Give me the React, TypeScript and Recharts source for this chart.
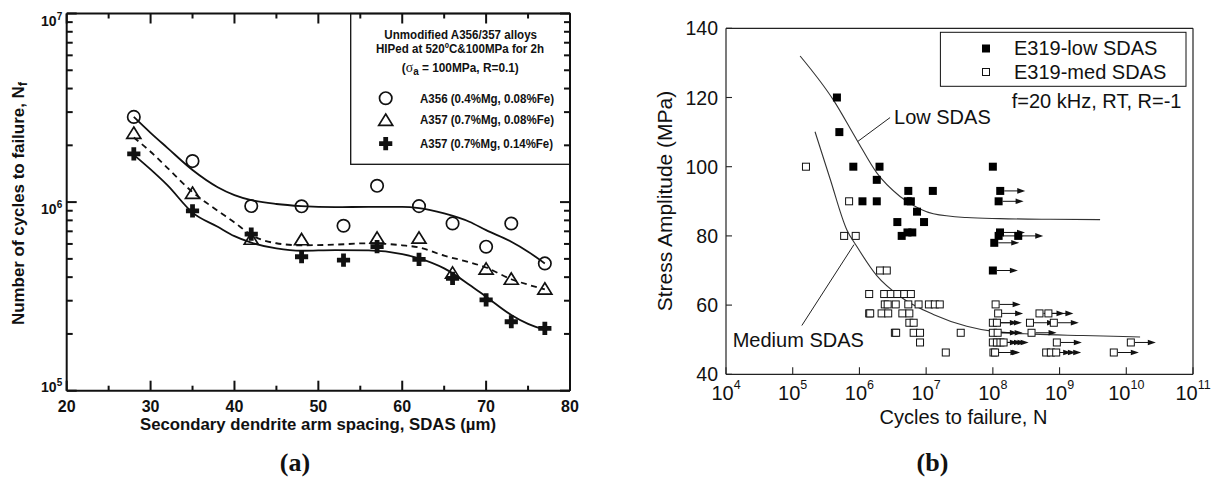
import React from 'react';
import { ComposedChart, Scatter, Line, XAxis, YAxis, ReferenceLine, ReferenceDot } from 'recharts';

const SANS = '"Liberation Sans", Arial, Helvetica, sans-serif';
const SERIF = '"Liberation Serif", "Times New Roman", serif';

// ---------------- Chart (a) data ----------------
const sdasA356 = [28, 35, 42, 48, 53, 57, 62, 66, 70, 73, 77];
const cyclesA356 = [2.83e6, 1.65e6, 0.953e6, 0.95e6, 0.749e6, 1.22e6, 0.952e6, 0.771e6, 0.58e6, 0.77e6, 0.473e6];
const sdasA357LowFe = [28, 35, 42, 48, 57, 62, 66, 70, 73, 77];
const cyclesA357LowFe = [2.31e6, 1.11e6, 0.634e6, 0.63e6, 0.642e6, 0.642e6, 0.419e6, 0.44e6, 0.389e6, 0.345e6];
const sdasA357HighFe = [28, 35, 42, 48, 53, 57, 62, 66, 70, 73, 77];
const cyclesA357HighFe = [1.8e6, 0.899e6, 0.676e6, 0.513e6, 0.493e6, 0.58e6, 0.497e6, 0.394e6, 0.303e6, 0.232e6, 0.214e6];

const fitSdas = [28, 30, 32, 35, 38, 40, 42, 45, 48, 52, 56, 60, 62, 65, 68, 70, 73, 75, 77];
const fitA356 = [2.83e6, 2.33e6, 1.94e6, 1.48e6, 1.2e6, 1.09e6, 1.025e6, 0.977e6, 0.952e6, 0.94e6, 0.944e6, 0.944e6, 0.93e6, 0.871e6, 0.787e6, 0.71e6, 0.616e6, 0.546e6, 0.473e6];
const fitA357LowFe = [2.2e6, 1.85e6, 1.52e6, 1.13e6, 0.9e6, 0.78e6, 0.67e6, 0.605e6, 0.59e6, 0.595e6, 0.605e6, 0.59e6, 0.575e6, 0.52e6, 0.48e6, 0.45e6, 0.39e6, 0.365e6, 0.345e6];
const fitA357HighFe = [1.78e6, 1.49e6, 1.23e6, 0.88e6, 0.74e6, 0.66e6, 0.61e6, 0.568e6, 0.552e6, 0.557e6, 0.555e6, 0.53e6, 0.503e6, 0.445e6, 0.365e6, 0.315e6, 0.252e6, 0.226e6, 0.21e6];

const sdasTicks = [20, 25, 30, 35, 40, 45, 50, 55, 60, 65, 70, 75, 80];
const cycleDecadesA = [1e5, 1e6, 1e7];

// ---------------- Chart (b) data ----------------
const lowN = [4.6e5, 5.0e5, 8.1e5, 2.0e6, 1.82e6, 5.4e6, 1.26e7, 1.11e6, 1.82e6, 5.3e6, 5.9e6, 7.3e6, 3.7e6, 9.3e6, 4.3e6, 5.25e6, 6.2e6, 1.0e8];
const lowS = [120, 110, 100, 100, 96.2, 93, 93, 90, 90, 90, 90, 87, 84, 84, 80, 81, 81, 100];
const lowRunoutN = [1.29e8, 1.22e8, 1.28e8, 1.22e8, 2.4e8, 1.05e8, 1.0e8];
const lowRunoutS = [93, 90, 81, 80, 80, 78, 70];

const medN = [
  1.58e5, 7.0e5, 5.9e5, 8.8e5, 2.04e6, 2.57e6,
  1.4e6, 2.35e6, 2.95e6, 3.7e6, 4.7e6, 5.9e6,
  2.4e6, 2.65e6, 3.5e6, 5.4e6, 7.7e6, 1.1e7, 1.35e7, 1.6e7,
  1.4e6, 1.45e6, 2.15e6, 2.7e6, 4.4e6, 5.6e6,
  5.6e6, 6.5e6,
  3.4e6, 3.55e6, 6.5e6, 8.1e6, 3.3e7,
  8.1e6,
  1.97e7,
];
const medS = [
  100, 90, 80, 80, 70, 70,
  63.2, 63.2, 63.2, 63.2, 63.2, 63.2,
  60.2, 60.2, 60.2, 60.2, 60.2, 60.2, 60.2, 60.2,
  57.6, 57.6, 57.6, 57.6, 57.6, 57.6,
  54.9, 54.9,
  52, 52, 52, 52, 52,
  49.2,
  46.3,
];
const medRunoutN = [1.1e8, 1.2e8, 5.0e8, 6.8e8, 1.0e8, 1.15e8, 3.6e8, 8.2e8, 1.0e8, 1.18e8, 3.8e8, 1.0e8, 1.15e8, 1.3e8, 1.45e8, 9.1e8, 1.17e10, 1.02e8, 1.08e8, 6.3e8, 7.4e8, 8.9e8, 6.5e9];
const medRunoutS = [60.2, 57.6, 57.6, 57.6, 54.9, 54.9, 54.9, 54.9, 52, 52, 52, 49.2, 49.2, 49.2, 49.2, 49.2, 49.2, 46.3, 46.3, 46.3, 46.3, 46.3, 46.3];

const lowFitN = [1.29e5, 4.06e5, 9.1e5, 1.82e6, 4.06e6, 8.1e6, 1.28e7, 4.06e7, 1.28e8, 7.2e8, 4.05e9];
const lowFitS = [132.0, 119.3, 107.8, 98.2, 91.4, 87.8, 86.4, 85.3, 85.0, 84.8, 84.7];
const medFitN = [2.16e5, 3.62e5, 6.46e5, 9.1e5, 1.82e6, 4.06e6, 1.28e7, 4.06e7, 1.02e8, 4.05e8, 2.25e9, 1.61e10];
const medFitS = [110.1, 96.6, 81.8, 77.0, 68.5, 62.5, 57.3, 53.9, 52.4, 51.6, 51.2, 50.8];

const stressTicks = [40, 60, 80, 100, 120, 140];
const cycleDecadesB = [1e4, 1e5, 1e6, 1e7, 1e8, 1e9, 1e10, 1e11];

// ---------------- helpers ----------------
const zip = (xs: number[], ys: number[], kx: string, ky: string) =>
  xs.map((x, i) => ({ [kx]: x, [ky]: ys[i] }));

const logMinorTicks = (decades: number[]) =>
  decades.slice(0, -1).flatMap((d) => [2, 3, 4, 5, 6, 7, 8, 9].map((m) => m * d));

const isDecade = (v: number) => {
  const e = Math.log10(v);
  return Math.abs(e - Math.round(e)) < 1e-6;
};

const INK = '#111';

// ---------------- markers (a) ----------------
const CircleMark = (p: any) => (
  <circle cx={p.cx} cy={p.cy} r={6.2} fill="none" stroke={INK} strokeWidth={1.7} />
);
const TriangleMark = (p: any) => {
  const { cx, cy } = p;
  return (
    <path d={`M${cx},${cy - 6.5} L${cx + 7},${cy + 4.8} L${cx - 7},${cy + 4.8} Z`} fill="none" stroke={INK} strokeWidth={1.7} />
  );
};
const PlusMark = (p: any) => {
  const { cx, cy } = p;
  const t = 2.4;
  const l = 6.6;
  return (
    <path
      d={`M${cx - t},${cy - l} H${cx + t} V${cy - t} H${cx + l} V${cy + t} H${cx + t} V${cy + l} H${cx - t} V${cy + t} H${cx - l} V${cy - t} H${cx - t} Z`}
      fill={INK}
    />
  );
};

// ---------------- markers (b) ----------------
const FilledSquare = (p: any) => <rect x={p.cx - 4} y={p.cy - 4} width={8} height={8} fill="#000" />;
const OpenSquare = (p: any) => (
  <rect x={p.cx - 3.5} y={p.cy - 3.5} width={7} height={7} fill="#fff" stroke="#111" strokeWidth={1} />
);
const Arrow = ({ cx, cy }: { cx: number; cy: number }) => (
  <g>
    <line x1={cx + 4} y1={cy} x2={cx + 19} y2={cy} stroke="#111" strokeWidth={1} />
    <path d={`M${cx + 25},${cy} L${cx + 17},${cy - 2.8} L${cx + 17},${cy + 2.8} Z`} fill="#111" />
  </g>
);
const FilledRunout = (p: any) => (
  <g>
    <Arrow cx={p.cx} cy={p.cy} />
    <FilledSquare cx={p.cx} cy={p.cy} />
  </g>
);
const OpenRunout = (p: any) => (
  <g>
    <Arrow cx={p.cx} cy={p.cy} />
    <OpenSquare cx={p.cx} cy={p.cy} />
  </g>
);

// ---------------- ticks (a): inward marks + labels ----------------
const markRect = (x1: number, y1: number, x2: number, y2: number, w: number) => {
  const x = Math.min(x1, x2) - (x1 === x2 ? w / 2 : 0);
  const y = Math.min(y1, y2) - (y1 === y2 ? w / 2 : 0);
  const width = x1 === x2 ? w : Math.abs(x2 - x1);
  const height = y1 === y2 ? w : Math.abs(y2 - y1);
  return <rect x={x} y={y} width={width} height={height} fill={INK} />;
};

const TickABottom = (p: any) => {
  const { x, y, payload } = p;
  const major = payload.value % 10 === 0;
  return (
    <g>
      {markRect(x, y, x, y - (major ? 10 : 5), 2)}
      {major && (
        <text x={x} y={y + 21} textAnchor="middle" fontFamily={SANS} fontWeight="bold" fontSize={16} fill={INK}>
          {payload.value}
        </text>
      )}
    </g>
  );
};
const TickATop = (p: any) => {
  const { x, y, payload } = p;
  const major = payload.value % 10 === 0;
  return <g>{markRect(x, y, x, y + (major ? 10 : 5), 2)}</g>;
};
const TickALeft = (p: any) => {
  const { x, y, payload } = p;
  const v = payload.value;
  const major = isDecade(v);
  const e = Math.round(Math.log10(v));
  return (
    <g>
      {markRect(x, y, x + (major ? 10 : 6), y, 2)}
      {major && (
        <text x={x - 4.5} y={y + (e === 5 ? 1 : 12)} textAnchor="end" fontFamily={SANS} fontWeight="bold" fontSize={14} fill={INK}>
          10
          <tspan dy={-6} fontSize={10}>
            {e}
          </tspan>
        </text>
      )}
    </g>
  );
};
const TickARight = (p: any) => {
  const { x, y, payload } = p;
  const major = isDecade(payload.value);
  return <g>{markRect(x - (major ? 10 : 6), y, x, y, 2)}</g>;
};

// ---------------- tick labels (b) ----------------
const LabelBBottom = (p: any) => {
  const e = Math.round(Math.log10(p.payload.value));
  return (
    <text x={p.x} y={p.y + 26} textAnchor="middle" fontFamily={SANS} fontSize={20} fill={INK}>
      10
      <tspan dy={-11} fontSize={12.5}>
        {e}
      </tspan>
    </text>
  );
};
const LabelBLeft = (p: any) => (
  <text x={p.x - 8} y={p.y + 7} textAnchor="end" fontFamily={SANS} fontSize={19.5} fill={INK}>
    {p.payload.value}
  </text>
);

const annoText = (text: string) => (props: any) => {
  const vb = props.viewBox || {};
  return (
    <text x={vb.x} y={(vb.y || 0) + 7} fontFamily={SANS} fontSize={20} fill={INK}>
      {text}
    </text>
  );
};

// ---------------- Chart (a) ----------------
function ChartA() {
  const axisLine = { stroke: INK, strokeWidth: 2 };
  const yTicks = [...cycleDecadesA, ...logMinorTicks(cycleDecadesA)].sort((a, b) => a - b);
  const common = { type: 'number' as const, dataKey: 'x', domain: [20, 80], allowDataOverflow: true, interval: 0 as const };
  const commonY = { type: 'number' as const, scale: 'log' as const, domain: [1e5, 1e7], allowDataOverflow: true, interval: 0 as const };
  return (
    <ComposedChart width={600} height={482} margin={{ top: 12.5, right: 29, bottom: 90.3, left: 65.7 }}>
      <XAxis xAxisId="b" {...common} ticks={sdasTicks} height={1} tickSize={0} tickMargin={0} axisLine={axisLine} tickLine={false} tick={TickABottom} />
      <XAxis xAxisId="t" orientation="top" {...common} ticks={sdasTicks} height={1} tickSize={0} tickMargin={0} axisLine={axisLine} tickLine={false} tick={TickATop} />
      <YAxis yAxisId="l" {...commonY} ticks={yTicks} width={1} tickSize={0} tickMargin={0} axisLine={axisLine} tickLine={false} tick={TickALeft} />
      <YAxis yAxisId="r" orientation="right" {...commonY} ticks={yTicks} width={1} tickSize={0} tickMargin={0} axisLine={axisLine} tickLine={false} tick={TickARight} />

      <Line xAxisId="b" yAxisId="l" data={zip(fitSdas, fitA356, 'x', 'y')} dataKey="y" type="monotone" dot={false}
        stroke={INK} strokeWidth={1.8} isAnimationActive={false} />
      <Line xAxisId="b" yAxisId="l" data={zip(fitSdas, fitA357LowFe, 'x', 'y')} dataKey="y" type="monotone" dot={false}
        stroke={INK} strokeWidth={1.8} strokeDasharray="6 4.5" isAnimationActive={false} />
      <Line xAxisId="b" yAxisId="l" data={zip(fitSdas, fitA357HighFe, 'x', 'y')} dataKey="y" type="monotone" dot={false}
        stroke={INK} strokeWidth={1.8} isAnimationActive={false} />

      <Scatter xAxisId="b" yAxisId="l" data={zip(sdasA356, cyclesA356, 'x', 'y')} dataKey="y" shape={CircleMark} isAnimationActive={false} />
      <Scatter xAxisId="b" yAxisId="l" data={zip(sdasA357LowFe, cyclesA357LowFe, 'x', 'y')} dataKey="y" shape={TriangleMark} isAnimationActive={false} />
      <Scatter xAxisId="b" yAxisId="l" data={zip(sdasA357HighFe, cyclesA357HighFe, 'x', 'y')} dataKey="y" shape={PlusMark} isAnimationActive={false} />
    </ComposedChart>
  );
}

function OverlayA() {
  const bold = { fontFamily: SANS, fontWeight: 'bold' as const, fill: INK };
  return (
    <svg width={600} height={482} style={{ position: 'absolute', left: 0, top: 0, pointerEvents: 'none' }}>
      <text transform="translate(24,203.5) rotate(-90)" textAnchor="middle" fontSize={16} textLength={243}
        lengthAdjust="spacingAndGlyphs" {...bold}>
        Number of cycles to failure, N<tspan dy={3} fontSize={12}>f</tspan>
      </text>
      <text x={318} y={429.5} textAnchor="middle" fontSize={16} textLength={356} lengthAdjust="spacingAndGlyphs" {...bold}>
        Secondary dendrite arm spacing, SDAS (µm)
      </text>

      <rect x={350.7} y={13.5} width={219.3} height={150.8} fill="none" stroke={INK} strokeWidth={1.3} />
      <text x={460.7} y={39.3} textAnchor="middle" fontSize={12} textLength={152.7} lengthAdjust="spacingAndGlyphs" {...bold}>
        Unmodified A356/357 alloys
      </text>
      <text x={460} y={53.3} textAnchor="middle" fontSize={12} textLength={168} lengthAdjust="spacingAndGlyphs" {...bold}>
        HIPed at 520ºC&amp;100MPa for 2h
      </text>
      <text x={460.3} y={72} textAnchor="middle" fontSize={12} textLength={117} lengthAdjust="spacingAndGlyphs" {...bold}>
        (<tspan fontFamily={SERIF} fontWeight="normal" fontSize={14}>σ</tspan>
        <tspan dy={3} fontSize={10}>a</tspan>
        <tspan dy={-3}> = 100MPa, R=0.1)</tspan>
      </text>

      <CircleMark cx={385.7} cy={98.2} />
      <TriangleMark cx={385.7} cy={120.5} />
      <PlusMark cx={385.7} cy={143.6} />
      <text x={420} y={102.6} fontSize={12} textLength={134} lengthAdjust="spacingAndGlyphs" {...bold}>
        A356 (0.4%Mg, 0.08%Fe)
      </text>
      <text x={420} y={123.6} fontSize={12} textLength={134} lengthAdjust="spacingAndGlyphs" {...bold}>
        A357 (0.7%Mg, 0.08%Fe)
      </text>
      <text x={420} y={147.6} fontSize={12} textLength={133} lengthAdjust="spacingAndGlyphs" {...bold}>
        A357 (0.7%Mg, 0.14%Fe)
      </text>

      <text x={295} y={471} textAnchor="middle" fontFamily={SERIF} fontWeight="bold" fontSize={26} fill={INK}>
        (a)
      </text>
    </svg>
  );
}

// ---------------- Chart (b) ----------------
function ChartB() {
  const axisLine = { stroke: '#222', strokeWidth: 1.2 };
  const tl = { stroke: '#222', strokeWidth: 1.1 };
  const minorX = logMinorTicks(cycleDecadesB);
  const commonX = { type: 'number' as const, scale: 'log' as const, dataKey: 'n', domain: [1e4, 1e11], allowDataOverflow: true, interval: 0 as const };
  const commonY = { type: 'number' as const, domain: [40, 140], allowDataOverflow: true, interval: 0 as const };
  return (
    <ComposedChart width={615} height={482} margin={{ top: 27.3, right: 21, bottom: 105.7, left: 125 }}>
      <XAxis xAxisId="b" {...commonX} ticks={cycleDecadesB} height={1} tickSize={-7} tickMargin={7} axisLine={axisLine} tickLine={tl} tick={LabelBBottom} />
      <XAxis xAxisId="bm" {...commonX} ticks={minorX} height={1} tickSize={-4} tickMargin={0} axisLine={false} tickLine={tl} tick={false} />
      <XAxis xAxisId="t" orientation="top" {...commonX} height={1} tickSize={0} tickMargin={0} axisLine={axisLine} tickLine={false} tick={false} />
      <YAxis yAxisId="l" {...commonY} ticks={stressTicks} width={1} tickSize={-6} tickMargin={6} axisLine={axisLine} tickLine={tl} tick={LabelBLeft} />
      <YAxis yAxisId="r" orientation="right" {...commonY} width={1} tickSize={0} tickMargin={0} axisLine={axisLine} tickLine={false} tick={false} />

      <Line xAxisId="b" yAxisId="l" data={zip(lowFitN, lowFitS, 'n', 's')} dataKey="s" type="monotone" dot={false}
        stroke="#333" strokeWidth={1.1} isAnimationActive={false} />
      <Line xAxisId="b" yAxisId="l" data={zip(medFitN, medFitS, 'n', 's')} dataKey="s" type="monotone" dot={false}
        stroke="#333" strokeWidth={1.1} isAnimationActive={false} />

      <ReferenceLine xAxisId="b" yAxisId="l" segment={[{ x: 2.88e6, y: 114.2 }, { x: 9.45e5, y: 107.3 }]} stroke="#222" strokeWidth={1} ifOverflow="visible" />
      <ReferenceLine xAxisId="b" yAxisId="l" segment={[{ x: 1.37e5, y: 54.1 }, { x: 8.3e5, y: 77.5 }]} stroke="#222" strokeWidth={1} ifOverflow="visible" />
      <ReferenceDot xAxisId="b" yAxisId="l" x={3.3e6} y={114.4} r={0} fill="none" stroke="none" label={annoText('Low SDAS')} />
      <ReferenceDot xAxisId="b" yAxisId="l" x={1.26e4} y={49.8} r={0} fill="none" stroke="none" label={annoText('Medium SDAS')} />
      <ReferenceDot xAxisId="b" yAxisId="l" x={1.92e8} y={119.0} r={0} fill="none" stroke="none" label={annoText('f=20 kHz, RT, R=-1')} />

      <Scatter xAxisId="b" yAxisId="l" data={zip(medRunoutN, medRunoutS, 'n', 's')} dataKey="s" shape={OpenRunout} isAnimationActive={false} />
      <Scatter xAxisId="b" yAxisId="l" data={zip(medN, medS, 'n', 's')} dataKey="s" shape={OpenSquare} isAnimationActive={false} />
      <Scatter xAxisId="b" yAxisId="l" data={zip(lowRunoutN, lowRunoutS, 'n', 's')} dataKey="s" shape={FilledRunout} isAnimationActive={false} />
      <Scatter xAxisId="b" yAxisId="l" data={zip(lowN, lowS, 'n', 's')} dataKey="s" shape={FilledSquare} isAnimationActive={false} />
    </ComposedChart>
  );
}

function OverlayB() {
  const reg = { fontFamily: SANS, fill: INK };
  return (
    <svg width={615} height={482} style={{ position: 'absolute', left: 600, top: 0, pointerEvents: 'none' }}>
      <g transform="translate(-600,0)">
        <text transform="translate(672,201) rotate(-90)" textAnchor="middle" fontSize={21} {...reg}>
          Stress Amplitude (MPa)
        </text>
        <text x={963.5} y={424} textAnchor="middle" fontSize={20} {...reg}>
          Cycles to failure, N
        </text>

        <rect x={940.4} y={32.3} width={245.6} height={54} fill="#fff" stroke="#111" strokeWidth={1} />
        <FilledSquare cx={986} cy={48.5} />
        <OpenSquare cx={986} cy={72} />
        <text x={1014} y={55} fontSize={20} {...reg}>
          E319-low SDAS
        </text>
        <text x={1014} y={78.5} fontSize={20} {...reg}>
          E319-med SDAS
        </text>

        <text x={932.5} y={471} textAnchor="middle" fontFamily={SERIF} fontWeight="bold" fontSize={26} fill={INK}>
          (b)
        </text>
      </g>
    </svg>
  );
}

export default function App() {
  return (
    <div style={{ position: 'absolute', left: 0, top: 0, width: 1215, height: 482, background: '#fff', overflow: 'hidden' }}>
      <div style={{ position: 'absolute', left: 0, top: 0 }}>
        <ChartA />
      </div>
      <OverlayA />
      <div style={{ position: 'absolute', left: 600, top: 0 }}>
        <ChartB />
      </div>
      <OverlayB />
    </div>
  );
}
